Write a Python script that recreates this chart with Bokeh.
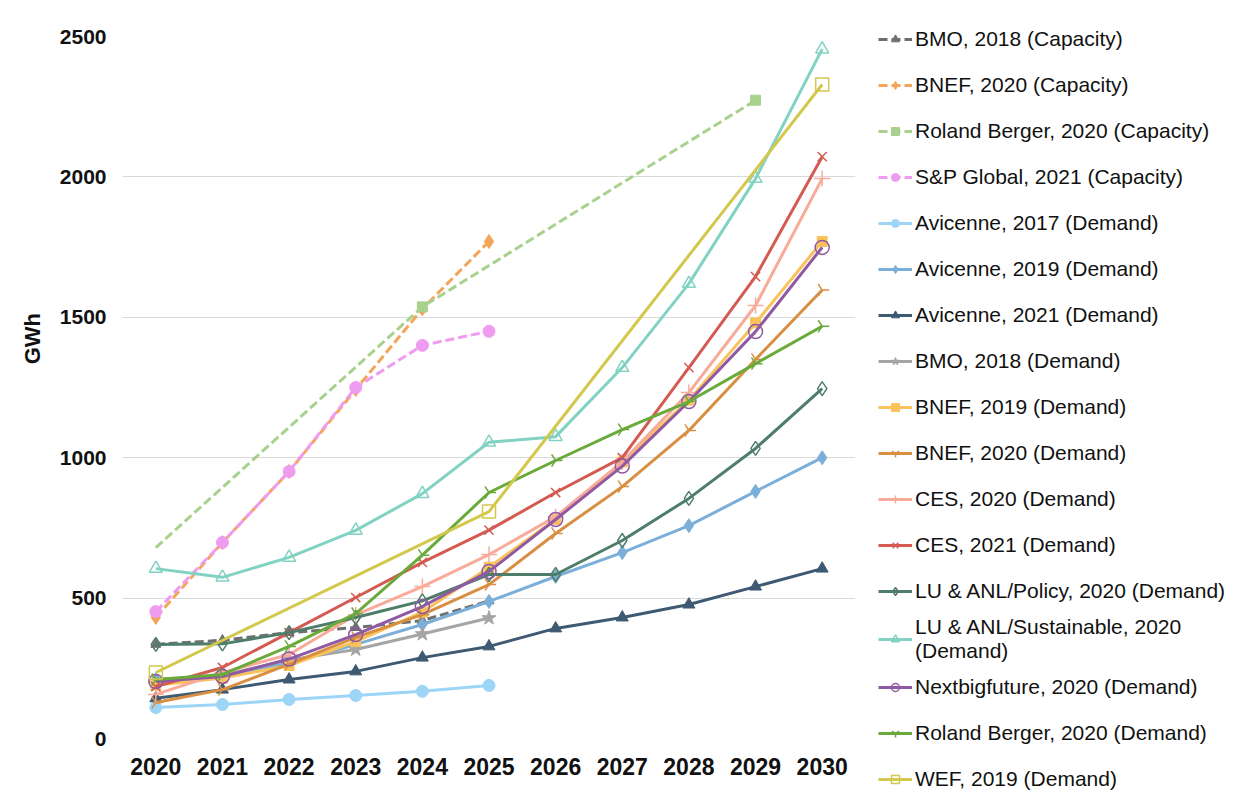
from bokeh.plotting import figure
from bokeh.models import Range1d, FixedTicker, Legend, LegendItem
from bokeh.embed import file_html
from bokeh.resources import INLINE

years = [2020, 2021, 2022, 2023, 2024, 2025, 2026, 2027, 2028, 2029, 2030]
y_ticks = [0, 500, 1000, 1500, 2000, 2500]
N = None

bmo_cap = [335, 350, 377, 395, 420, 490, N, N, N, N, N]
bnef_cap = [431, 698, 951, 1243, 1530, 1770, N, N, N, N, N]
rb_cap = [680, N, N, N, 1537, N, N, N, N, 2273, N]
sp_cap = [452, 698, 951, 1250, 1400, 1450, N, N, N, N, N]
av17 = [110, 121, 139, 153, 168, 189, N, N, N, N, N]
av19 = [210, 222, 270, 335, 406, 488, 577, 662, 758, 880, 1000]
av21 = [143, 174, 210, 239, 288, 328, 392, 431, 477, 541, 605]
bmo_dem = [195, 225, 280, 317, 372, 429, N, N, N, N, N]
bnef19 = [190, 215, 260, 345, 450, 610, 780, 985, 1205, 1480, 1770]
bnef20 = [128, 174, 265, 360, 441, 548, 730, 897, 1097, 1350, 1597]
ces20 = [157, 235, 299, 440, 541, 655, 790, 985, 1232, 1542, 1994]
ces21 = [185, 253, 377, 502, 627, 742, 876, 1000, 1321, 1645, 2072]
lu_pol = [335, 337, 377, 431, 490, 584, 584, 705, 855, 1033, 1246]
lu_sus = [605, 574, 645, 741, 872, 1055, 1075, 1321, 1620, 1994, 2455]
nbf = [203, 221, 283, 370, 470, 595, 780, 970, 1200, 1449, 1749]
rb_dem = [210, 228, 328, 445, 653, 876, 990, 1100, 1200, 1335, 1468]
wef = [235, N, N, N, N, 808, N, N, N, N, 2329]

labels = [
    "BMO, 2018 (Capacity)", "BNEF, 2020 (Capacity)", "Roland Berger, 2020 (Capacity)",
    "S&P Global, 2021 (Capacity)", "Avicenne, 2017 (Demand)", "Avicenne, 2019 (Demand)",
    "Avicenne, 2021 (Demand)", "BMO, 2018 (Demand)", "BNEF, 2019 (Demand)",
    "BNEF, 2020 (Demand)", "CES, 2020 (Demand)", "CES, 2021 (Demand)",
    "LU & ANL/Policy, 2020 (Demand)", "LU & ANL/Sustainable, 2020\n(Demand)",
    "Nextbigfuture, 2020 (Demand)", "Roland Berger, 2020 (Demand)", "WEF, 2019 (Demand)",
]
series = [bmo_cap, bnef_cap, rb_cap, sp_cap, av17, av19, av21, bmo_dem, bnef19,
          bnef20, ces20, ces21, lu_pol, lu_sus, nbf, rb_dem, wef]

# style: (color, dashed, marker, size, filled, angle, marker_start)
styles = [
    ("#6f6f6f", True, "triangle", 10, True, 0, 0),
    ("#f5a55a", True, "diamond", 14, True, 0, 0),
    ("#a9d18e", True, "square", 10, True, 0, 1),
    ("#ef9cf0", True, "circle", 12, True, 0, 0),
    ("#9dd5f7", False, "circle", 12, True, 0, 0),
    ("#7bafd9", False, "diamond", 14, True, 0, 0),
    ("#3e5a73", False, "triangle", 12, True, 0, 0),
    ("#a5a5a5", False, "star", 15, True, 0, 0),
    ("#f9c25a", False, "square", 10, True, 0, 0),
    ("#d88f42", False, "y", 14, False, 1.5708, 0),
    ("#f9ab9a", False, "cross", 16, False, 0, 0),
    ("#d45b52", False, "x", 13, False, 0, 0),
    ("#4e7d6a", False, "diamond", 14, False, 0, 0),
    ("#82d2c3", False, "triangle", 13, False, 0, 0),
    ("#8f5aa3", False, "circle", 14, False, 0, 0),
    ("#6aaa3a", False, "y", 14, False, 1.5708, 0),
    ("#d3c84b", False, "square", 13, False, 0, 0),
]

FRAME_W, FRAME_H = 733, 702
TOP, LEFT, BOTTOM, RIGHT = 36, 122, 62, 380
p = figure(frame_width=FRAME_W, frame_height=FRAME_H, output_backend="svg",
           toolbar_location=None,
           x_range=Range1d(2019.5, 2030.5), y_range=Range1d(0, 2500),
           min_border_left=LEFT, min_border_right=RIGHT, min_border_top=TOP,
           min_border_bottom=BOTTOM)
p.outline_line_color = None
p.xgrid.grid_line_color = None
p.ygrid.grid_line_color = "#d9d9d9"
p.ygrid.grid_line_width = 1.2

p.xaxis.ticker = FixedTicker(ticks=years)
p.yaxis.ticker = FixedTicker(ticks=y_ticks)
for ax in (p.xaxis, p.yaxis):
    ax.axis_line_color = None
    ax.major_tick_line_color = None
    ax.minor_tick_line_color = None
    ax.major_tick_out = 0
    ax.major_label_text_font = "Liberation Sans"
    ax.major_label_text_font_style = "bold"
    ax.major_label_text_color = "#111111"
p.xaxis.major_label_text_font_size = "23px"
p.xaxis.major_label_standoff = 19
p.yaxis.major_label_text_font_size = "21px"
p.yaxis.major_label_standoff = 16
p.yaxis.axis_label = "\u00a0" * 16 + "GWh"
p.yaxis.axis_label_text_font = "Liberation Sans"
p.yaxis.axis_label_text_font_style = "bold"
p.yaxis.axis_label_text_font_size = "22px"
p.yaxis.axis_label_text_color = "#111111"
p.yaxis.axis_label_standoff = 12

items = []
for lab, vals, st in zip(labels, series, styles):
    color, dashed, marker, size, filled, angle, mstart = st
    xs = [x for x, v in zip(years, vals) if v is not None]
    ys = [v for v in vals if v is not None]
    r_line = p.line(xs, ys, line_color=color, line_width=3,
                    line_dash="9 4" if dashed else "solid")
    mx, my = xs[mstart:], ys[mstart:]
    fill = dict(fill_color=color, line_width=1) if filled else dict(fill_alpha=0, line_width=1.5)
    r_m = p.scatter(mx, my, marker=marker, size=size, line_color=color, angle=angle, **fill)
    items.append(LegendItem(label=lab, renderers=[r_line, r_m]))

legend = Legend(items=items, location=(23, -63))
legend.label_text_font = "Liberation Sans"
legend.label_text_font_size = "21px"
legend.label_text_color = "#111111"
legend.label_text_line_height = 1.1
legend.glyph_width = 34
legend.glyph_height = 20
legend.label_height = 44
legend.spacing = 2
legend.label_standoff = 3
legend.padding = 0
legend.margin = 0
legend.border_line_color = None
legend.background_fill_alpha = 0
p.add_layout(legend, "right")

open("out.html", "w").write(file_html(p, INLINE))
